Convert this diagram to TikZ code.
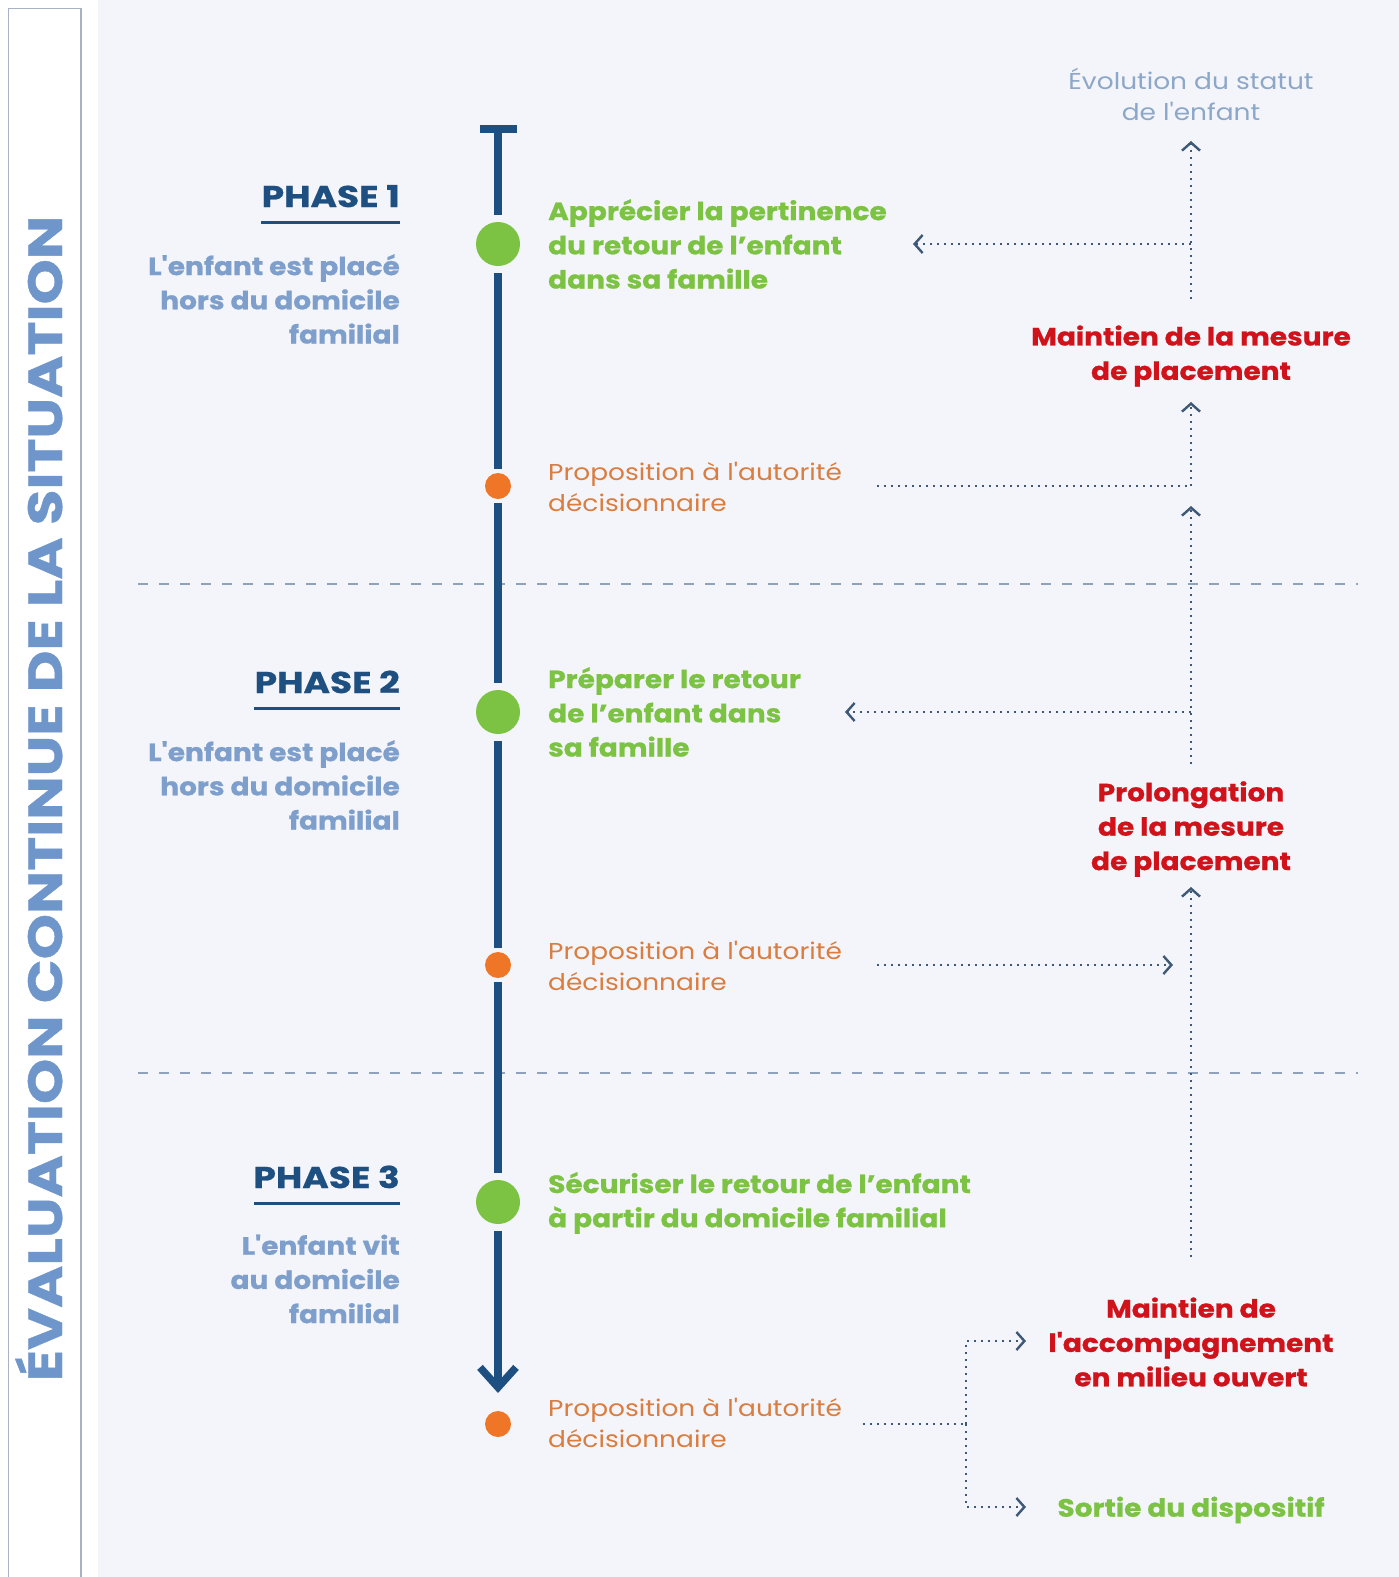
\documentclass[tikz,border=0pt]{standalone}
\usepackage{fontspec}
\setmainfont{Poppins}
\newfontfamily\fwa{Poppins}[FakeStretch=1.12, BoldFeatures={FakeBold=0.8}]
\newfontfamily\fwb{Poppins}[FakeStretch=1.2, BoldFeatures={FakeBold=0.8}]
\newfontfamily\fwc{Poppins}[FakeStretch=1.15]
\usetikzlibrary{arrows.meta}
\definecolor{bgl}{HTML}{F4F5FA}
\definecolor{tblue}{HTML}{1D4F80}
\definecolor{sblue}{HTML}{7E9FCB}
\definecolor{bantxt}{HTML}{6F96CB}
\definecolor{banline}{HTML}{A8B2C6}
\definecolor{tgreen}{HTML}{7CC243}
\definecolor{odotc}{HTML}{EE7626}
\definecolor{otxt}{HTML}{DA7D40}
\definecolor{tred}{HTML}{D0121B}
\definecolor{cdot}{HTML}{3E5877}
\definecolor{dashc}{HTML}{8FA2BC}
\definecolor{evtxt}{HTML}{8DA7C8}
\newcommand\myfs[2]{\fontsize{#1}{#2}\selectfont}
\begin{document}
\begin{tikzpicture}[x=1pt,y=-1pt,
  tline/.style={line width=8pt, draw=tblue},
  gdot/.style={circle, fill=tgreen, minimum size=44pt, inner sep=0pt, outer sep=7pt},
  odot/.style={circle, fill=odotc, minimum size=26pt, inner sep=0pt, outer sep=4pt},
  phaselbl/.style={font=\fwb\myfs{30}{36}\bfseries, text=tblue, inner sep=0pt},
  subtxt/.style={font=\fwa\myfs{25}{34.2}\bfseries, text=sblue, align=right, inner sep=0pt},
  greentxt/.style={font=\fwa\myfs{25}{34.2}\bfseries, text=tgreen, align=left, inner sep=0pt},
  orangetxt/.style={font=\fwc\myfs{23}{31.2}, text=otxt, align=left, inner sep=0pt},
  redtxt/.style={font=\fwa\myfs{25}{34.4}\bfseries, text=tred, align=center, inner sep=0pt},
  evtext/.style={font=\fwc\myfs{23}{31.2}, text=evtxt, align=center, inner sep=0pt},
  conn/.style={draw=cdot, line width=1.8pt, dash pattern=on 1.8pt off 5.2pt},
  dotarrow/.style={-{Straight Barb[length=8pt,width=18pt,line width=2.4pt]}},
  sepline/.style={draw=dashc, line width=2.2pt, dash pattern=on 10pt off 11pt},
  uline/.style={draw=tblue, line width=3pt}
]
\useasboundingbox (0,0) rectangle (1399,1577);
\fill[white] (0,0) rectangle (1399,1577);
\fill[bgl] (97.6,0) rectangle (1399,1577);
% banner
\draw[banline, line width=1.6pt] (8.3,1580) -- (8.3,8.3) -- (81,8.3) -- (81,1580);
\node[rotate=90, anchor=base, font=\fwb\myfs{48}{56}\bfseries, text=bantxt, inner sep=0pt] (ban) at (62,798.5) {ÉVALUATION CONTINUE DE LA SITUATION};

% separators
\coordinate (s1a) at (138,584); \coordinate (s1b) at (1358,584);
\coordinate (s2a) at (138,1073); \coordinate (s2b) at (1358,1073);
\draw[sepline] (s1a) -- (s1b);
\draw[sepline] (s2a) -- (s2b);

% timeline
\coordinate (tt) at (498,129);
\coordinate (tl) at (480,129);
\coordinate (tr) at (517,129);
\coordinate (tb) at (498,1393);
\node[gdot] (c1) at (498,244) {};
\node[odot] (d1) at (498,486) {};
\node[gdot] (c2) at (498,712) {};
\node[odot] (d2) at (498,965) {};
\node[gdot] (c3) at (498,1202) {};
\node[odot] (d3) at (498,1424) {};
\draw[tline] (tl) -- (tr);
\draw[tline] ([yshift=-4pt]tt) -- (c1);
\draw[tline] (c1) -- (d1);
\draw[tline] (d1) -- (c2);
\draw[tline] (c2) -- (d2);
\draw[tline] (d2) -- (c3);
\draw[tline, -{Straight Barb[length=20pt,width=36pt,line width=7.5pt]}] (c3) -- (tb);

% phases
\node[phaselbl, anchor=base east] (p1) at (400,207) {PHASE 1};
\draw[uline] (261,222) -- (p1.east |- 0,222);
\node[subtxt, anchor=east] (p1s) at (400,299) {L'enfant est placé\\hors du domicile\\familial};
\node[phaselbl, anchor=base east] (p2) at (400,693) {PHASE 2};
\draw[uline] (254,708) -- (p2.east |- 0,708);
\node[subtxt, anchor=east] (p2s) at (400,785) {L'enfant est placé\\hors du domicile\\familial};
\node[phaselbl, anchor=base east] (p3) at (400,1188) {PHASE 3};
\draw[uline] (254,1203) -- (p3.east |- 0,1203);
\node[subtxt, anchor=east] (p3s) at (400,1279) {L'enfant vit\\au domicile\\familial};

% steps
\node[greentxt, anchor=west] (g1) at (548,244) {Apprécier la pertinence\\du retour de l’enfant\\dans sa famille};
\node[orangetxt, anchor=west] (o1) at (548,487) {Proposition à l'autorité\\décisionnaire};
\node[greentxt, anchor=west] (g2) at (548,712) {Préparer le retour\\de l’enfant dans\\sa famille};
\node[orangetxt, anchor=west] (o2) at (548,966) {Proposition à l'autorité\\décisionnaire};
\node[greentxt, anchor=west] (g3) at (548,1203) {Sécuriser le retour de l’enfant\\à partir du domicile familial};
\node[orangetxt, anchor=west] (o3) at (548,1423) {Proposition à l'autorité\\décisionnaire};

% right column
\node[evtext] (ev) at (1191,94.5) {Évolution du statut\\de l'enfant};
\node[redtxt] (r1) at (1191,356) {Maintien de la mesure\\de placement};
\node[redtxt] (r2) at (1191,829) {Prolongation\\de la mesure\\de placement};
\node[redtxt] (r3) at (1191,1342) {Maintien de\\l'accompagnement\\en milieu ouvert};
\node[greentxt, anchor=center] (sd) at (1191,1510) {Sortie du dispositif};

% connectors
\coordinate (v1b) at (1191,299); \coordinate (v1t) at (1191,141);
\coordinate (j1) at (1191,244); \coordinate (t1) at (913,244);
\coordinate (h2) at (877,486); \coordinate (j2) at (1191,486); \coordinate (t2) at (1191,402);
\coordinate (v3b) at (1191,764); \coordinate (v3t) at (1191,506);
\coordinate (j3) at (1191,712); \coordinate (t3) at (845,712);
\coordinate (v4b) at (1191,1257); \coordinate (v4t) at (1191,887);
\coordinate (h4) at (877,965); \coordinate (t4) at (1173,965);
\coordinate (h5) at (863,1424); \coordinate (j5) at (966,1424);
\coordinate (t5a) at (1026,1341); \coordinate (t5b) at (1026,1507);
\draw[conn, dotarrow] (v1b) -- (v1t);
\draw[conn, dotarrow] (j1) -- (t1);
\draw[conn] (h2) -- (j2);
\draw[conn, dotarrow] (j2) -- (t2);
\draw[conn, dotarrow] (v3b) -- (v3t);
\draw[conn, dotarrow] (j3) -- (t3);
\draw[conn, dotarrow] (v4b) -- (v4t);
\draw[conn, dotarrow] (h4) -- (t4);
\draw[conn] (h5) -- (j5);
\draw[conn, dotarrow] (j5) |- (t5a);
\draw[conn, dotarrow] (j5) |- (t5b);
\end{tikzpicture}
\end{document}
